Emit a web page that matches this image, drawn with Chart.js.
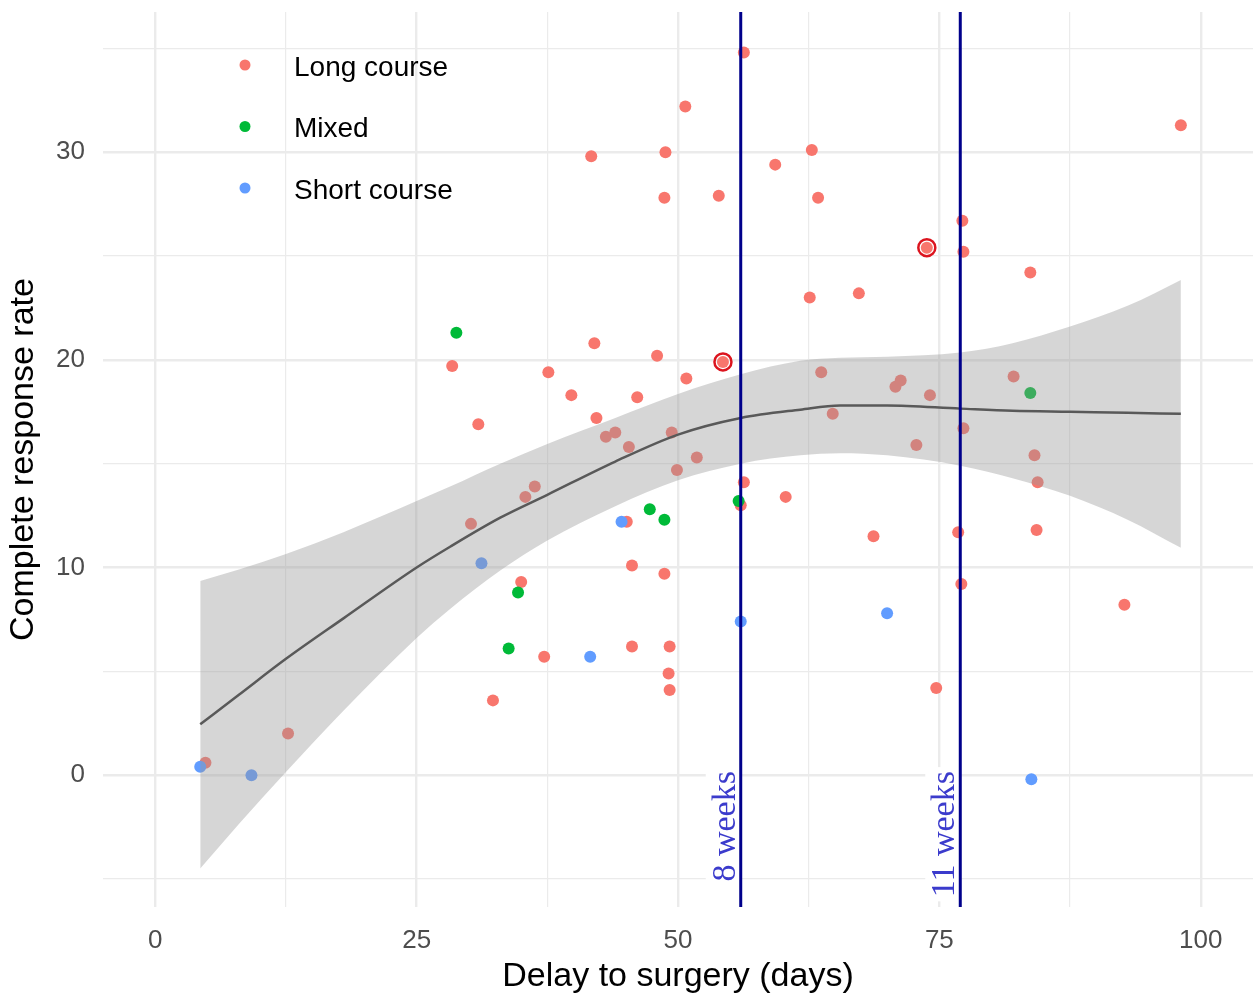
<!DOCTYPE html>
<html>
<head>
<meta charset="utf-8">
<title>Complete response rate vs delay to surgery</title>
<script src="https://cdn.jsdelivr.net/npm/chart.js@4.4.1/dist/chart.umd.min.js"></script>
<style>
  html, body { margin: 0; padding: 0; background: #fff; }
</style>
</head>
<body>
<canvas id="crRate" width="1259" height="995"></canvas>
<script>
// points: [delay to surgery (days), complete response rate]
const longCourse = [
  [4.8, 0.6], [12.7, 2.0], [28.4, 19.7], [30.9, 16.9], [30.2, 12.1], [32.3, 3.6],
  [35.0, 9.3], [35.4, 13.4], [36.3, 13.9], [37.2, 5.7], [37.6, 19.4], [39.8, 18.3],
  [41.7, 29.8], [42.0, 20.8], [42.2, 17.2], [43.1, 16.3], [44.0, 16.5], [45.1, 12.2],
  [45.3, 15.8], [45.6, 10.1], [45.6, 6.2], [46.1, 18.2], [48.0, 20.2], [48.8, 30.0],
  [48.7, 27.8], [48.7, 9.7], [49.2, 6.2], [49.1, 4.9], [49.2, 4.1], [49.4, 16.5],
  [49.9, 14.7], [50.7, 32.2], [50.8, 19.1], [51.8, 15.3], [53.9, 27.9], [54.3, 19.9],
  [56.3, 34.8], [56.3, 14.1], [56.0, 13.0], [59.3, 29.4], [60.3, 13.4], [62.8, 30.1],
  [62.6, 23.0], [63.4, 27.8], [63.7, 19.4], [64.8, 17.4], [67.3, 23.2], [68.7, 11.5],
  [70.8, 18.7], [71.3, 19.0], [72.8, 15.9], [73.8, 25.4], [74.1, 18.3], [74.7, 4.2],
  [77.2, 26.7], [77.3, 25.2], [77.3, 16.7], [76.8, 11.7], [77.1, 9.2], [82.1, 19.2],
  [83.7, 24.2], [84.1, 15.4], [84.4, 14.1], [84.3, 11.8], [92.7, 8.2], [98.1, 31.3]
];
const mixed = [
  [28.8, 21.3], [34.7, 8.8], [33.8, 6.1], [47.3, 12.8], [48.7, 12.3], [55.8, 13.2], [83.7, 18.4]
];
const shortCourse = [
  [4.3, 0.4], [9.2, 0.0], [31.2, 10.2], [41.6, 5.7], [44.6, 12.2], [56.0, 7.4], [70.0, 7.8], [83.8, -0.2]
];
const highlighted = [[54.3, 19.9], [73.8, 25.4]];

const groupNames = ["Long course", "Mixed", "Short course"];
const groupColors = ["#F8766D", "#00BA38", "#619CFF"];

// smoothed fit and its confidence band
const smoothX     = [4.3, 8, 12.5, 18, 25, 28.2, 33, 37.5, 44, 50, 56, 61.7, 65.5, 70, 77, 82, 87.5, 93, 98.1];
const smoothFit   = [2.45, 3.87, 5.6, 7.55, 10.0, 11.0, 12.4, 13.5, 15.1, 16.4, 17.2, 17.6, 17.8, 17.8, 17.65, 17.55, 17.5, 17.45, 17.4];
const smoothUpper = [9.35, 9.9, 10.65, 11.7, 13.2, 13.9, 15.0, 15.95, 17.2, 18.35, 19.3, 19.95, 20.1, 20.15, 20.35, 20.8, 21.6, 22.6, 23.85];
const smoothLower = [-4.5, -2.35, 0.15, 3.1, 6.6, 8.0, 9.85, 11.3, 12.95, 14.2, 15.0, 15.4, 15.5, 15.4, 14.9, 14.3, 13.45, 12.3, 10.95];

const weekLines = [56, 77];
const weekLabels = ["8 weeks", "11 weeks"];

const xTicks = [0, 12.5, 25, 37.5, 50, 62.5, 75, 87.5, 100];
const xTickLabels = ["0", "", "25", "", "50", "", "75", "", "100"];
const yTicks = [-5, 0, 5, 10, 15, 20, 25, 30, 35];
const yTickLabels = ["", "0", "", "10", "", "20", "", "30", ""];

const SANS = "'Liberation Sans', Arial, sans-serif";
Chart.defaults.font.family = SANS;

const toPts = (arr) => arr.map(([x, y]) => ({ x, y }));
const band = (arr) => smoothX.map((x, i) => ({ x, y: arr[i] }));

const weekMarkers = {
  id: "weekMarkers",
  afterDatasetsDraw(chart) {
    const { ctx, chartArea, scales: { x, y } } = chart;
    ctx.save();
    ctx.font = "34px 'Liberation Serif', 'Times New Roman', serif";
    weekLines.forEach((d, i) => {
      const px = x.getPixelForValue(d);
      const top = y.getPixelForValue(0) - 4;
      const w = ctx.measureText(weekLabels[i]).width;
      ctx.save();
      ctx.translate(px - 6, top);
      ctx.rotate(-Math.PI / 2);
      ctx.fillStyle = "#ffffff";
      ctx.fillRect(-w - 4, -29, w + 8, 35);
      ctx.fillStyle = "#3b3bcc";
      ctx.textAlign = "right";
      ctx.textBaseline = "alphabetic";
      ctx.fillText(weekLabels[i], 0, 0);
      ctx.restore();
    });
    ctx.strokeStyle = "#00008B";
    ctx.lineWidth = 3;
    weekLines.forEach((d) => {
      const px = x.getPixelForValue(d);
      ctx.beginPath();
      ctx.moveTo(px, chartArea.top);
      ctx.lineTo(px, chartArea.bottom);
      ctx.stroke();
    });
    ctx.restore();
  }
};

const insideLegend = {
  id: "insideLegend",
  afterDraw(chart) {
    const { ctx, chartArea } = chart;
    ctx.save();
    ctx.font = "28px " + SANS;
    ctx.textBaseline = "alphabetic";
    groupNames.forEach((name, i) => {
      const cy = chartArea.top + 53 + i * 61.5;
      ctx.fillStyle = groupColors[i];
      ctx.beginPath();
      ctx.arc(chartArea.left + 142, cy, 5.5, 0, Math.PI * 2);
      ctx.fill();
      ctx.fillStyle = "#000";
      ctx.fillText(name, chartArea.left + 191, cy + 10.5);
    });
    ctx.restore();
  }
};

const pointSet = (label, arr, color, order) => ({
  label,
  data: toPts(arr),
  backgroundColor: color,
  borderColor: color,
  borderWidth: 0,
  pointRadius: 6,
  order
});

const bandLine = (label, arr, extra) => Object.assign({
  type: "line",
  label,
  data: band(arr),
  pointRadius: 0,
  cubicInterpolationMode: "monotone"
}, extra);

new Chart(document.getElementById("crRate"), {
  type: "scatter",
  data: {
    datasets: [
      pointSet(groupNames[0], longCourse, groupColors[0], 5),
      pointSet(groupNames[1], mixed, groupColors[1], 4),
      pointSet(groupNames[2], shortCourse, groupColors[2], 3),
      bandLine("upper", smoothUpper, {
        borderColor: "rgba(0,0,0,0)",
        backgroundColor: "rgba(153,153,153,0.4)",
        fill: "+1",
        order: 2
      }),
      bandLine("lower", smoothLower, {
        borderColor: "rgba(0,0,0,0)",
        fill: false,
        order: 2
      }),
      bandLine("fit", smoothFit, {
        borderColor: "#595959",
        borderWidth: 2.5,
        fill: false,
        order: 1
      }),
      {
        label: "highlight",
        data: toPts(highlighted),
        pointRadius: 8.5,
        borderWidth: 2.5,
        borderColor: "#dc141e",
        backgroundColor: "rgba(0,0,0,0)",
        order: 0
      }
    ]
  },
  options: {
    responsive: false,
    animation: false,
    events: [],
    layout: { autoPadding: false, padding: { top: 12, right: 6, left: 0, bottom: 0 } },
    plugins: {
      legend: { display: false },
      tooltip: { enabled: false }
    },
    scales: {
      x: {
        type: "linear",
        min: -5,
        max: 105,
        afterBuildTicks: (axis) => { axis.ticks = xTicks.map((v) => ({ value: v })); },
        afterFit: (axis) => {
          axis.height = 88;
          axis.paddingLeft = 0;
          axis.paddingRight = 0;
        },
        border: { display: false },
        grid: {
          color: "#ebebeb",
          lineWidth: (c) => (xTickLabels[c.index] ? 2.4 : 1.2),
          drawTicks: false
        },
        ticks: {
          padding: 18,
          color: "#4d4d4d",
          font: { size: 26 },
          maxRotation: 0,
          autoSkip: false,
          callback: (v, i) => xTickLabels[i]
        },
        title: {
          display: true,
          text: "Delay to surgery (days)",
          color: "#000",
          font: { size: 34, lineHeight: 1 },
          padding: { top: 0, bottom: 1 }
        }
      },
      y: {
        type: "linear",
        min: -6.35,
        max: 36.75,
        afterBuildTicks: (axis) => { axis.ticks = yTicks.map((v) => ({ value: v })); },
        afterFit: (axis) => {
          axis.width = 103;
          axis.paddingTop = 0;
          axis.paddingBottom = 0;
        },
        border: { display: false },
        grid: {
          color: "#ebebeb",
          lineWidth: (c) => (yTickLabels[c.index] ? 2.4 : 1.2),
          drawTicks: false
        },
        ticks: {
          padding: 18,
          color: "#4d4d4d",
          font: { size: 26 },
          autoSkip: false,
          callback: (v, i) => yTickLabels[i]
        },
        title: {
          display: true,
          text: "Complete response rate",
          color: "#000",
          font: { size: 34, lineHeight: 1 },
          padding: { top: 7, bottom: 0 }
        }
      }
    }
  },
  plugins: [weekMarkers, insideLegend]
});
</script>
</body>
</html>
